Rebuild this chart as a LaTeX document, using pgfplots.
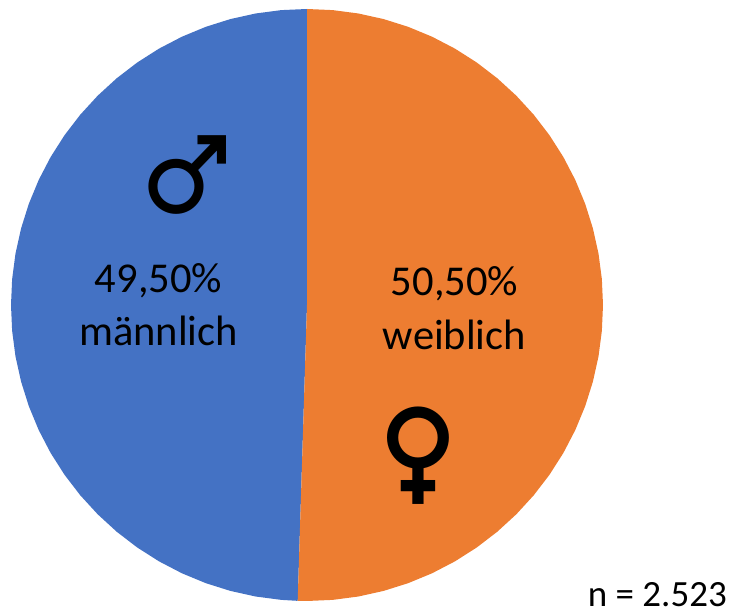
\documentclass[border=0pt]{standalone}
\usepackage{fontspec}
\setmainfont{Carlito}
\newfontfamily\symfont{Noto Emoji}
\usepackage{pgfplots}
\usepgfplotslibrary{polar}
\pgfplotsset{compat=1.18}
\definecolor{pieblue}{HTML}{4472C4}
\definecolor{pieorange}{HTML}{ED7D31}
\begin{document}
\begin{tikzpicture}[x=1pt,y=1pt]
\useasboundingbox (0,0) rectangle (733,612);
\begin{polaraxis}[at={(307pt,307pt)},anchor=center,scale only axis,width=592pt,height=592pt,
  hide axis,ymin=0,ymax=1,xmin=0,xmax=360,clip=false]
\addplot[fill=pieblue,draw=none] coordinates {(0,0) (90,1) (95,1) (100,1) (105,1) (110,1) (115,1) (120,1) (125,1) (130,1) (135,1) (140,1) (145,1) (150,1) (155,1) (160,1) (165,1) (170,1) (175,1) (180,1) (185,1) (190,1) (195,1) (200,1) (205,1) (210,1) (215,1) (220,1) (225,1) (230,1) (235,1) (240,1) (245,1) (250,1) (255,1) (260,1) (265,1) (268.2,1)} -- cycle;
\addplot[fill=pieorange,draw=none] coordinates {(0,0) (90,1) (85,1) (80,1) (75,1) (70,1) (65,1) (60,1) (55,1) (50,1) (45,1) (40,1) (35,1) (30,1) (25,1) (20,1) (15,1) (10,1) (5,1) (0,1) (-5,1) (-10,1) (-15,1) (-20,1) (-25,1) (-30,1) (-35,1) (-40,1) (-45,1) (-50,1) (-55,1) (-60,1) (-65,1) (-70,1) (-75,1) (-80,1) (-85,1) (-90,1) (-91.8,1)} -- cycle;
\end{polaraxis}
\node[font=\fontsize{42.5}{42.5}\selectfont] at (158.5,331) {49,50\%};
\node[font=\fontsize{42.5}{42.5}\selectfont] at (158.5,281) {männlich};
\node[font=\fontsize{42.5}{42.5}\selectfont] at (454.5,328) {50,50\%};
\node[font=\fontsize{42.5}{42.5}\selectfont] at (454.5,277) {weiblich};
\node[font=\fontsize{37}{37}\selectfont,anchor=base east,inner sep=0pt] at (727,5) {n = 2.523};
\node[font=\fontsize{77.5}{77.5}\selectfont\symfont] at (188,437) {♂};
\node[font=\fontsize{96}{96}\selectfont\symfont] at (418.5,156) {♀};
\end{tikzpicture}
\end{document}
